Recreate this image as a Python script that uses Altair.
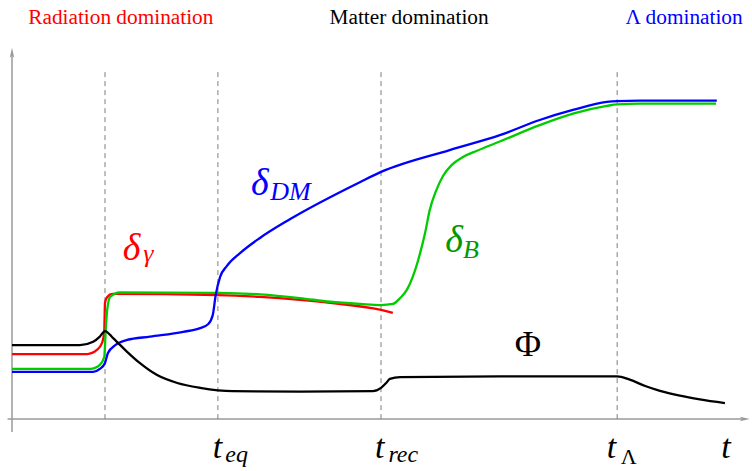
import altair as alt
import pandas as pd

# ---- time axis (t) and amplitude axis (a) in arbitrary units ----
T_DOMAIN = [-1.626, 100.27]
A_DOMAIN = [-14.02, 112.94]

SERIF = "Liberation Serif, Times New Roman, serif"

# Phi (gravitational potential)
phi_t = [0, 9.2, 11.0, 11.9, 12.6, 13.7, 15.6, 17.3, 19.6, 22.4, 25.5, 29.9, 39.0,
         48.9, 50.0, 50.7, 51.2, 52.6, 66.1, 82.0, 83.7, 85.8, 87.8, 90.5, 93.2, 96.6]
phi_a = [19.9, 19.9, 20.8, 22.2, 23.7, 21.8, 18.1, 15.1, 11.9, 9.7, 8.4, 7.5, 7.4,
         7.5, 8.4, 9.7, 10.8, 11.3, 11.5, 11.5, 10.6, 8.9, 7.6, 6.3, 5.3, 4.3]

# delta_gamma (photons)
gam_t = [0, 10.2, 11.5, 12.2, 12.5, 12.6, 12.9, 13.6, 27.9, 33.6, 39.0, 43.1, 50.0, 51.6]
gam_a = [17.5, 17.5, 18.6, 20.5, 23.7, 31.3, 32.9, 33.7, 33.4, 32.9, 32.1, 31.3, 29.4, 28.6]

# delta_B (baryons)
bar_t = [0, 10.6, 11.9, 12.5, 12.7, 12.9, 13.3, 14.6, 27.9, 33.6, 39.0, 43.1, 47.2, 50.0,
         51.6, 52.6, 53.5, 54.3, 55.3, 56.0, 56.6, 57.5, 58.4, 59.6, 61.1, 63.0, 66.1,
         71.5, 76.0, 80.6, 82.0, 85.1, 95.4]
bar_a = [13.5, 13.5, 14.6, 16.7, 24.0, 29.4, 32.9, 34.1, 34.0, 33.6, 32.6, 31.6, 31.0, 30.7,
         31.0, 32.6, 34.8, 38.3, 44.7, 50.4, 56.3, 61.7, 65.5, 68.5, 70.6, 72.3, 74.8,
         79.2, 82.3, 84.4, 84.8, 85.0, 85.0]

# delta_DM (dark matter)
dm_t = [0, 11.0, 11.9, 12.6, 13.0, 14.0, 15.6, 18.7, 23.2, 25.5, 26.6, 27.2, 27.6, 28.2,
        29.1, 30.9, 33.6, 37.7, 47.2, 50.0, 59.3, 66.1, 71.5, 76.0, 80.6, 82.0, 85.1, 95.5]
dm_a = [12.7, 12.7, 13.5, 15.1, 17.8, 19.9, 21.3, 22.2, 23.5, 24.5, 25.6, 28.0, 33.4, 38.3,
        41.2, 44.7, 48.8, 53.9, 63.9, 66.6, 72.5, 76.5, 80.6, 83.3, 85.5, 85.7, 85.8, 85.8]

# epochs: radiation/matter transition, t_eq, t_rec, t_Lambda
epoch_t = [12.6, 27.9, 50.0, 82.0]
epoch_top = 93.5

# italic math labels
math_text = ["δ", "γ", "δ", "DM", "δ", "B", "t", "eq", "t", "rec", "t", "t"]
math_t = [15.0, 17.8, 32.4, 35.0, 58.7, 61.1, 27.2, 28.9, 49.2, 51.0, 80.6, 96.1]
math_a = [42.9, 42.3, 60.4, 59.0, 45.0, 43.4, -10.5, -11.6, -10.5, -11.6, -10.5, -10.5]
math_color = ["#ff0000", "#ff0000", "#0000ff", "#0000ff", "#009900", "#009900",
              "#000000", "#000000", "#000000", "#000000", "#000000", "#000000"]
math_size = [38, 26, 38, 26, 38, 26, 34, 24, 34, 24, 34, 34]

# upright math labels
up_text = ["Φ", "Λ"]
up_t = [69.9, 82.5]
up_a = [17.0, -12.1]
up_size = [36, 22]
up_align = ["center", "left"]

# era titles
era_text = ["Radiation domination", "Matter domination", "Λ domination"]
era_t = [2.2, 53.8, 99.0]
era_a = [106.5, 106.5, 106.5]
era_color = ["#ff0000", "#000000", "#0000ff"]
era_align = ["left", "center", "right"]

xs = alt.Scale(domain=T_DOMAIN, nice=False, zero=False)
ys = alt.Scale(domain=A_DOMAIN, nice=False, zero=False)
X = lambda f: alt.X(f, scale=xs, axis=None)
Y = lambda f: alt.Y(f, scale=ys, axis=None)

AXIS_GREY = "#9a9a9a"


def curve(ts, vals, color):
    df = pd.DataFrame({"t": ts, "a": vals})
    return alt.Chart(df).mark_line(
        interpolate="monotone", color=color, strokeWidth=2.3
    ).encode(x=X("t:Q"), y=Y("a:Q"))


# coordinate axes
axes_df = pd.DataFrame({"t": [0.0, -0.6], "a": [-3.5, 0.0],
                        "t2": [0.0, 99.3], "a2": [98.7, 0.0]})
axes = alt.Chart(axes_df).mark_rule(color=AXIS_GREY, strokeWidth=1.5).encode(
    x=X("t:Q"), y=Y("a:Q"), x2="t2:Q", y2="a2:Q"
)
up_head = alt.Chart(pd.DataFrame({"t": [0.0], "a": [98.7]})).mark_point(
    shape="M0,-1 L0.45,1 L0,0.55 L-0.45,1 Z", size=100, filled=True,
    color=AXIS_GREY, opacity=1
).encode(x=X("t:Q"), y=Y("a:Q"))
right_head = alt.Chart(pd.DataFrame({"t": [99.3], "a": [0.0]})).mark_point(
    shape="M1,0 L-1,-0.45 L-0.55,0 L-1,0.45 Z", size=100, filled=True,
    color=AXIS_GREY, opacity=1
).encode(x=X("t:Q"), y=Y("a:Q"))

# dashed epoch markers
epochs = alt.Chart(pd.DataFrame({"t": epoch_t, "top": [epoch_top] * len(epoch_t),
                                 "bottom": [0.0] * len(epoch_t)})).mark_rule(
    color="#7f7f7f", strokeWidth=1, strokeDash=[5, 4]
).encode(x=X("t:Q"), y=Y("top:Q"), y2="bottom:Q")

math_df = pd.DataFrame({"label": math_text, "t": math_t, "a": math_a,
                        "color": math_color, "size": math_size})
math_labels = alt.Chart(math_df).mark_text(
    font=SERIF, fontStyle="italic", align="left", baseline="alphabetic"
).encode(x=X("t:Q"), y=Y("a:Q"), text="label:N",
         color=alt.Color("color:N", scale=None),
         size=alt.Size("size:Q", scale=None))

up_layers = []
for txt, tt, aa, sz, al in zip(up_text, up_t, up_a, up_size, up_align):
    up_layers.append(
        alt.Chart(pd.DataFrame({"label": [txt], "t": [tt], "a": [aa]})).mark_text(
            font=SERIF, fontSize=sz, align=al, baseline="alphabetic",
            color="#000000"
        ).encode(x=X("t:Q"), y=Y("a:Q"), text="label:N")
    )

era_layers = []
for txt, tt, aa, col, al in zip(era_text, era_t, era_a, era_color, era_align):
    era_layers.append(
        alt.Chart(pd.DataFrame({"label": [txt], "t": [tt], "a": [aa]})).mark_text(
            font=SERIF, fontSize=21.3, align=al, baseline="alphabetic",
            color=col
        ).encode(x=X("t:Q"), y=Y("a:Q"), text="label:N")
    )

chart = alt.layer(
    axes, up_head, right_head, epochs,
    curve(gam_t, gam_a, "#ff0000"),
    curve(bar_t, bar_a, "#00cc00"),
    curve(dm_t, dm_a, "#0000ff"),
    curve(phi_t, phi_a, "#000000"),
    math_labels, *up_layers, *era_layers,
).properties(
    width=752, height=471, padding=0,
    autosize=alt.AutoSizeParams(type="none"),
    background="white",
).configure_view(stroke=None)

chart.save("out.html", embed_options={"renderer": "svg", "actions": False})
